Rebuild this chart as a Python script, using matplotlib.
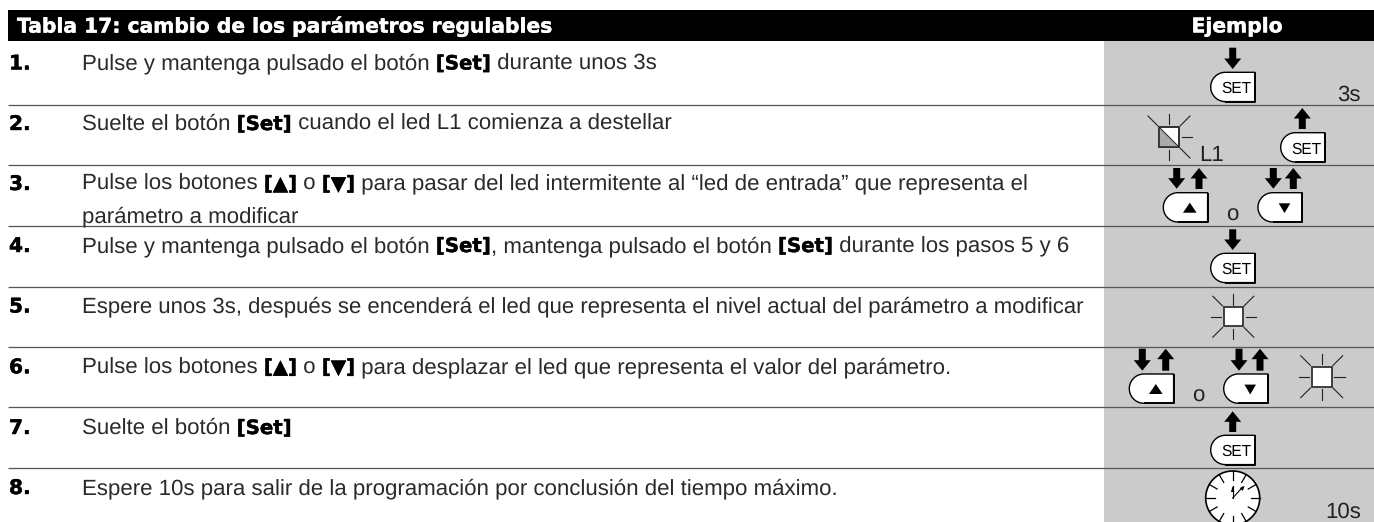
import numpy as np
import matplotlib
matplotlib.use('Agg')
import matplotlib.pyplot as plt
import matplotlib.patheffects as pe
from matplotlib.patches import Polygon, Rectangle

plt.rcParams['text.hinting'] = 'none'

# Table text
title_left = 'Tabla 17: cambio de los parámetros regulables'
title_right = 'Ejemplo'
step_labels = ['1.', '2.', '3.', '4.', '5.', '6.', '7.', '8.']
# (text, bold) pieces, one list per printed line
step_lines = [
    [[('Pulse y mantenga pulsado el botón ', 0), ('[Set]', 1), (' durante unos 3s', 0)]],
    [[('Suelte el botón ', 0), ('[Set]', 1), (' cuando el led L1 comienza a destellar', 0)]],
    [[('Pulse los botones ', 0), ('[▲]', 1), (' o ', 0), ('[▼]', 1),
      (' para pasar del led intermitente al “led de entrada” que representa el', 0)],
     [('parámetro a modificar', 0)]],
    [[('Pulse y mantenga pulsado el botón ', 0), ('[Set]', 1), (', mantenga pulsado el botón ', 0),
      ('[Set]', 1), (' durante los pasos 5 y 6', 0)]],
    [[('Espere unos 3s, después se encenderá el led que representa el nivel actual del parámetro a modificar', 0)]],
    [[('Pulse los botones ', 0), ('[▲]', 1), (' o ', 0), ('[▼]', 1),
      (' para desplazar el led que representa el valor del parámetro.', 0)]],
    [[('Suelte el botón ', 0), ('[Set]', 1)]],
    [[('Espere 10s para salir de la programación por conclusión del tiempo máximo.', 0)]],
]
row_baselines = [69.5, 130, 190, 252, 312.5, 373.3, 434, 494]
row_lines = [104.5, 165, 226, 286.5, 346.5, 407, 467.5]
# Tracking in the original differs a little from row to row
row_sizes = [16.05, 16.0, 16.05, 16.05, 15.9, 16.05, 16.05, 16.0]

GREY = '#cbcbcb'
TEXT = '#2a2a2a'
BODY = ['Liberation Sans']
HEAVY = ['DejaVu Sans']
THICK = [pe.withStroke(linewidth=0.3, foreground='black')]
THICK_W = [pe.withStroke(linewidth=0.3, foreground='white')]

fig = plt.figure(figsize=(13.74, 5.22), dpi=100)
ax = fig.add_axes([0, 0, 1, 1])
ax.set_xlim(0, 1374)
ax.set_ylim(522, 0)
ax.axis('off')
renderer = fig.canvas.get_renderer()


# Width of a string in pixels, the x's keep leading/trailing spaces counted
def text_width(s, **kw):
    t = ax.text(0, 0, 'x' + s + 'x', **kw)
    w = t.get_window_extent(renderer).width
    t.set_text('xx')
    w -= t.get_window_extent(renderer).width
    t.remove()
    return w


def write_line(x, y, parts, size):
    for s, bold in parts:
        if bold:
            kw = dict(family=HEAVY, fontweight='bold', fontsize=14.2, color='black')
        else:
            kw = dict(family=BODY, fontsize=size, color=TEXT)
        t = ax.text(x, y, s, va='baseline', ha='left', **kw)
        if bold:
            t.set_path_effects(THICK)
        x += text_width(s, **kw)


def arrow(x, y0, y1):
    # y0 is the tail, y1 the point
    d = 1 if y1 > y0 else -1
    head = y1 - d * 10.5
    ax.add_patch(Polygon([(x - 3.5, y0), (x + 3.5, y0), (x + 3.5, head), (x + 8.5, head),
                          (x, y1), (x - 8.5, head), (x - 3.5, head)], fc='black', ec='none'))


def button(x0, x1, y0, y1):
    r = (y1 - y0) / 2
    a = np.linspace(np.pi / 2, 3 * np.pi / 2, 30)
    xs = x0 + r + r * np.cos(a)
    ys = (y0 + y1) / 2 - r * np.sin(a)
    pts = [(x1, y0)] + list(zip(xs, ys)) + [(x1, y1)]
    ax.add_patch(Polygon(pts, closed=True, fc='white', ec='black', lw=1.0))
    ax.plot([x1, x1, x0 + r], [y0, y1, y1], color='black', lw=1.4, solid_capstyle='butt')


def set_button(x0, y0):
    button(x0, x0 + 44.3, y0, y0 + 29.3)
    ax.text(x0 + 25.3, y0 + 15, 'SET', family=BODY, fontsize=11.2, color='black',
            ha='center', va='center_baseline')


def tri_button(x0, y0, up):
    button(x0, x0 + 44.3, y0, y0 + 29.3)
    cx = x0 + 26.5
    cy = y0 + 15.2
    if up:
        pts = [(cx - 6.8, cy + 4.8), (cx + 6.8, cy + 4.8), (cx, cy - 5.2)]
    else:
        pts = [(cx - 5.8, cy - 4.6), (cx + 5.8, cy - 4.6), (cx, cy + 5.2)]
    ax.add_patch(Polygon(pts, fc='black', ec='none'))


def led(cx, cy, half, half_grey=False, skip=()):
    for k in range(8):
        if k in skip:
            continue
        ang = k * np.pi / 4
        c, s = np.cos(ang), np.sin(ang)
        if k % 2 == 0:
            r0, r1 = half + 2.7, half + 13
        else:
            r0, r1 = (half + 1.3) * np.sqrt(2), (half + 11) * np.sqrt(2)
        ax.plot([cx + r0 * c, cx + r1 * c], [cy - r0 * s, cy - r1 * s], color='#222222', lw=0.8)
    ax.add_patch(Rectangle((cx - half, cy - half), 2 * half, 2 * half, fc='white', ec='#333333', lw=1.3, zorder=3))
    if half_grey:
        ax.add_patch(Polygon([(cx - half, cy - half), (cx + half, cy + half), (cx - half, cy + half)],
                             fc='#aaaaaa', ec='none', zorder=3))
        ax.add_patch(Rectangle((cx - half, cy - half), 2 * half, 2 * half, fc='none', ec='#333333', lw=1.3, zorder=4))
        ax.plot([cx - half, cx + half], [cy - half, cy + half], color='#333333', lw=0.8, zorder=4)


def clock(cx, cy, r):
    t = np.linspace(0, 2 * np.pi, 120)
    ax.fill(cx + r * np.cos(t), cy + r * np.sin(t), fc='white', ec='black', lw=1.2)
    for k in range(12):
        a = k * np.pi / 6
        ax.plot([cx + (r - 9) * np.sin(a), cx + r * np.sin(a)],
                [cy - (r - 9) * np.cos(a), cy - r * np.cos(a)], color='black', lw=0.9)
    ax.plot([cx, cx], [cy, cy - 12], color='black', lw=0.8)
    ax.plot([cx, cx + 10], [cy, cy - 11], color='black', lw=0.8)
    ax.add_patch(Polygon([(cx - 1.8, cy - 6), (cx + 1.8, cy - 6), (cx, cy - 12)], fc='black', ec='none'))
    ax.add_patch(Polygon([(cx + 7, cy - 10), (cx + 10, cy - 7), (cx + 12, cy - 12)], fc='black', ec='none'))


# Backgrounds and rules
ax.add_patch(Rectangle((1104, 41), 270, 481, fc=GREY, ec='none'))
ax.add_patch(Rectangle((8, 10), 1366, 31, fc='black', ec='none'))
for y in row_lines:
    ax.plot([8, 1374], [y, y], color='#555555', lw=0.9, solid_capstyle='butt')

ax.text(17, 32.6, title_left, family=HEAVY, fontweight='bold', fontsize=14.6, color='white',
        va='baseline', path_effects=THICK_W)
ax.text(1237, 32.4, title_right, family=HEAVY, fontweight='bold', fontsize=14.6, color='white',
        va='baseline', ha='center', path_effects=THICK_W)

# Steps
for label, lines, y, size in zip(step_labels, step_lines, row_baselines, row_sizes):
    ax.text(9, y, label, family=HEAVY, fontweight='bold', fontsize=14.5, color='black',
            va='baseline', path_effects=THICK)
    for i, parts in enumerate(lines):
        write_line(82, y + i * 32.5, parts, size)

# Example column
small = dict(family=BODY, fontsize=16, color='#222222', va='baseline')

arrow(1232.7, 47.7, 69)
set_button(1210.7, 72.3)
ax.text(1361, 100.7, '3s', ha='right', **small)

led(1169, 137, 10, half_grey=True, skip=(4, 5))
ax.text(1199, 161, 'L1', **small)
arrow(1302.3, 129, 108)
set_button(1280.7, 132.7)

arrow(1176.7, 168, 188.7)
arrow(1199, 189, 168)
tri_button(1163.3, 192.7, True)
arrow(1273.3, 168, 188.7)
arrow(1293.3, 189, 168)
tri_button(1258, 192.7, False)
ax.text(1232.7, 221, 'o', ha='center', **small)

arrow(1232.7, 229.3, 250)
set_button(1210.7, 253.3)

led(1233.3, 316.7, 9.5)

arrow(1142.3, 348.7, 370.7)
arrow(1165.7, 370.7, 348.7)
tri_button(1129.3, 374, True)
arrow(1239, 348.7, 370.7)
arrow(1260, 370.7, 348.7)
tri_button(1223.7, 374, False)
ax.text(1198.3, 402, 'o', ha='center', **small)
led(1321.7, 376.7, 10)

arrow(1232.7, 432, 411.3)
set_button(1210.7, 435.3)

clock(1232.7, 498, 27)
ax.text(1361, 517.5, '10s', ha='right', **small)

fig.savefig('out.png', dpi=100)
